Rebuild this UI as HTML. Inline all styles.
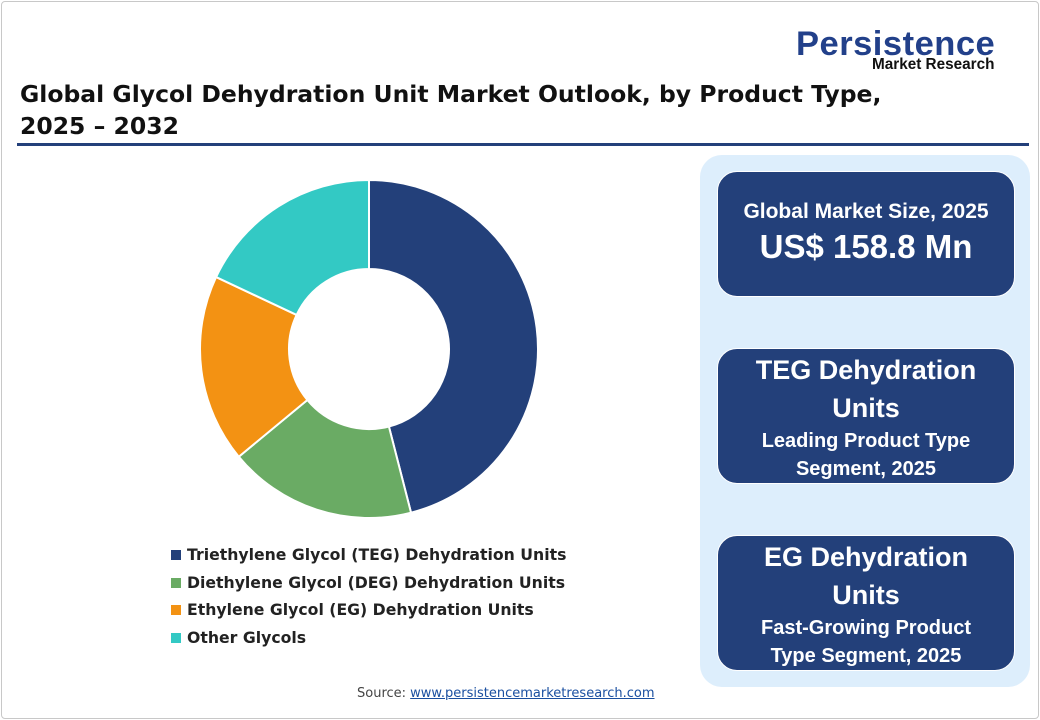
<!DOCTYPE html>
<html><head><meta charset="utf-8"><style>
body{margin:0;width:1040px;height:720px;background:#fff;font-family:"Liberation Sans",sans-serif;position:relative;overflow:hidden}
.frame{position:absolute;left:1px;top:1px;width:1036px;height:716px;border:1px solid #c8c8c8;border-radius:4px}
.title{position:absolute;left:20px;top:78px;font-size:23.5px;font-family:"DejaVu Sans",sans-serif;font-weight:bold;color:#111;line-height:32px;white-space:nowrap}
.rule{position:absolute;left:17px;top:143px;width:1012px;height:3px;background:#23407a}
.logo1{position:absolute;left:796px;top:25px;font-size:34.5px;font-weight:bold;color:#22408a;letter-spacing:0.5px}
.logo2{position:absolute;left:872px;top:56px;font-size:15.3px;font-weight:bold;color:#111}
.panel{position:absolute;left:700px;top:155px;width:330px;height:532px;background:#ddeefc;border-radius:22px}
.box{position:absolute;left:717px;width:296px;background:#23407a;border-radius:20px;color:#fff;text-align:center;font-weight:bold;border:1px solid #fff}
.legend{position:absolute;left:171px;top:541px;font-size:15.7px;font-family:"DejaVu Sans",sans-serif;font-weight:bold;color:#222;line-height:27.5px;white-space:nowrap}
.legend div span{display:inline-block;width:10px;height:10px;margin-right:6px}
.src{position:absolute;left:357px;top:686px;font-size:13px;font-family:"DejaVu Sans",sans-serif;color:#444}
.src a{color:#1a4fa0;text-decoration:underline}
</style></head><body>
<div class="frame"></div>
<div class="logo1">Persistence</div>
<div class="logo2">Market Research</div>
<div class="title">Global Glycol Dehydration Unit Market Outlook, by Product Type,<br>2025 – 2032</div>
<div class="rule"></div>
<svg id="donut" width="1040" height="720" style="position:absolute;left:0;top:0"></svg>
<div class="legend">
<div><span style="background:#23407a"></span>Triethylene Glycol (TEG) Dehydration Units</div>
<div><span style="background:#6aab64"></span>Diethylene Glycol (DEG) Dehydration Units</div>
<div><span style="background:#f39213"></span>Ethylene Glycol (EG) Dehydration Units</div>
<div><span style="background:#33c9c4"></span>Other Glycols</div>
</div>
<div class="panel"></div>
<div class="box" style="top:171px;height:124px">
<div style="margin-top:28px;font-size:21px">Global Market Size, 2025</div>
<div style="margin-top:4px;font-size:33px">US$ 158.8 Mn</div></div>
<div class="box" style="top:348px;height:134px">
<div style="margin-top:2px;font-size:27px;line-height:38px">TEG Dehydration<br>Units</div>
<div style="font-size:20px;line-height:28px">Leading Product Type<br>Segment, 2025</div></div>
<div class="box" style="top:535px;height:134px">
<div style="margin-top:2px;font-size:27px;line-height:38px">EG Dehydration<br>Units</div>
<div style="font-size:20px;line-height:28px">Fast-Growing Product<br>Type Segment, 2025</div></div>
<div class="src">Source: <a>www.persistencemarketresearch.com</a></div>
<script>
const categories=["TEG","DEG","EG","Other Glycols"];
const shares=[46,18,18,18];
const colors=["#23407a","#6aab64","#f39213","#33c9c4"];
const svg=document.getElementById('donut');
const cx=369,cy=349,R=169,r=80;
const total=shares.reduce((a,b)=>a+b,0);
function pt(rad,a){return [cx+rad*Math.sin(a),cy-rad*Math.cos(a)];}
let a0=0;
shares.forEach((v,i)=>{
 const a1=a0+v/total*2*Math.PI;
 const large=(a1-a0)>Math.PI?1:0;
 const [x0,y0]=pt(R,a0),[x1,y1]=pt(R,a1),[x2,y2]=pt(r,a1),[x3,y3]=pt(r,a0);
 const p=document.createElementNS('http://www.w3.org/2000/svg','path');
 p.setAttribute('d',`M${x0},${y0}A${R},${R} 0 ${large} 1 ${x1},${y1}L${x2},${y2}A${r},${r} 0 ${large} 0 ${x3},${y3}Z`);
 p.setAttribute('fill',colors[i]);p.setAttribute('stroke','#fff');p.setAttribute('stroke-width','2');
 
 
 svg.appendChild(p);a0=a1;
});
</script>
</body></html>
